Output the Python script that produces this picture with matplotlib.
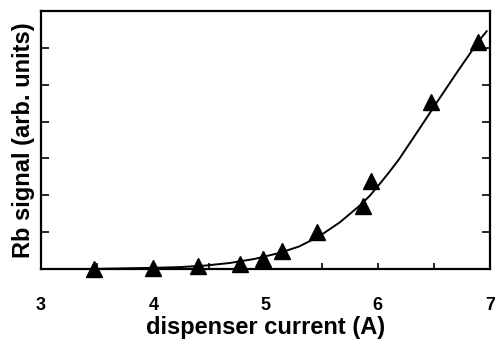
import matplotlib
matplotlib.use("Agg")
import matplotlib.pyplot as plt
from matplotlib.ticker import MultipleLocator

# measured data points
current = [3.47, 4.00, 4.40, 4.77, 4.98, 5.15, 5.46, 5.87, 5.94, 6.47, 6.89]
signal = [0.00, 0.02, 0.08, 0.14, 0.27, 0.49, 1.00, 1.72, 2.38, 4.54, 6.16]

# fit curve
fit_x = [3.47, 4.00, 4.24, 4.46, 4.68, 4.90, 5.12, 5.30, 5.48, 5.66, 5.84,
         5.93, 6.01, 6.10, 6.19, 6.37, 6.55, 6.72, 6.90, 6.97]
fit_y = [0.00, 0.03, 0.05, 0.09, 0.16, 0.27, 0.43, 0.61, 0.89, 1.26, 1.72,
         1.99, 2.28, 2.62, 2.98, 3.80, 4.63, 5.40, 6.19, 6.45]

xticks = [3, 4, 5, 6, 7]
xtick_labels = ["3", "4", "5", "6", "7"]

plt.rcParams['font.family'] = ['Liberation Sans', 'DejaVu Sans']
plt.rcParams['font.weight'] = 'bold'

fig = plt.figure(figsize=(4.95, 3.43), dpi=100)
ax = fig.add_axes([0.083, 0.216, 0.907, 0.752])

ax.plot(fit_x, fit_y, color='black', lw=1.4, zorder=2, solid_joinstyle='round')
ax.plot(current, signal, linestyle='none', marker='^', color='black',
        markersize=11, zorder=3, clip_on=False)

ax.set_xlim(3, 7)
ax.set_ylim(0, 7)
ax.set_xticks(xticks)
ax.set_xticklabels(xtick_labels, fontsize=13, fontweight='bold')
ax.xaxis.set_minor_locator(MultipleLocator(0.5))
ax.yaxis.set_major_locator(MultipleLocator(1))
ax.set_yticklabels([])
ax.tick_params(axis='x', which='both', direction='in', length=4, width=1.2,
               pad=20, top=False)
ax.tick_params(axis='y', which='both', direction='in', length=6, width=1.2,
               right=True)

for s in ax.spines.values():
    s.set_linewidth(1.6)

ax.set_xlabel("dispenser current (A)", fontsize=17, fontweight='bold', labelpad=2)
ax.set_ylabel("Rb signal (arb. units)", fontsize=17, fontweight='bold', labelpad=1)

fig.savefig("out.png", dpi=100)
